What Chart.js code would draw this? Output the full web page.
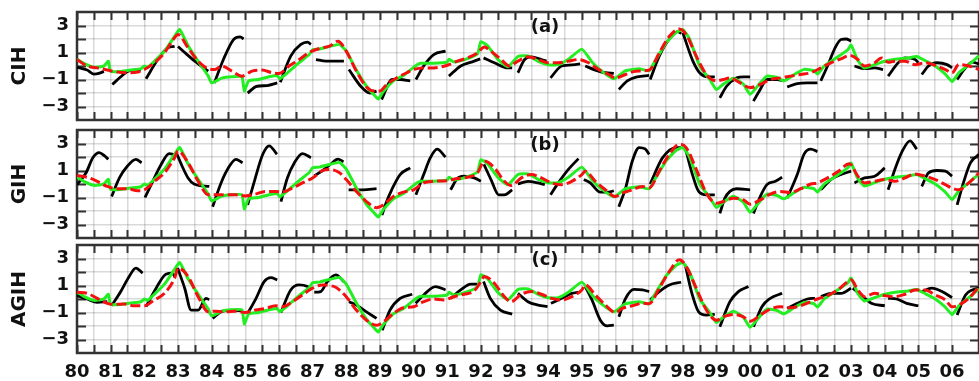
<!DOCTYPE html>
<html>
<head>
<meta charset="utf-8">
<script src="https://cdn.jsdelivr.net/npm/chart.js@4/dist/chart.umd.min.js"></script>
<style>
  body { margin: 0; background: #fff; }
  #wrap { position: relative; width: 979px; height: 381px; }
  #wrap canvas { position: absolute; left: 0; top: 0; }
</style>
</head>
<body>
<div id="wrap">
  <canvas id="panelA" width="979" height="381"></canvas>
  <canvas id="panelB" width="979" height="381"></canvas>
  <canvas id="panelC" width="979" height="381"></canvas>
</div>
<script>
// x axis: years since 1900, labelled 80 ... 06
const xMin = 80;
const xMax = 106.8;
const yTickLabels = [3, 1, -1, -3];
const panelNames = ['CIH', 'GIH', 'AGIH'];
const panelTags = ['(a)', '(b)', '(c)'];

// observed index (green, same in all panels)
const observed = [
  [80.0, 0.5], [80.2, 0.2], [80.5, -0.1], [80.8, 0.0], [80.93, 0.35], [81.0, -0.4], [81.3, -0.4],
  [81.6, -0.3], [81.9, -0.2], [82.0, 0.0], [82.1, -0.1], [82.3, 0.35], [82.6, 1.1], [82.9, 2.2],
  [83.05, 2.7], [83.3, 1.5], [83.6, 0.35], [83.9, -0.75], [84.0, -1.25], [84.3, -0.9], [84.6, -0.8],
  [84.9, -0.8], [84.97, -1.85], [85.1, -1.1], [85.4, -1.0], [85.7, -0.8], [85.95, -0.7], [86.02, -0.95],
  [86.3, -0.4], [86.6, 0.25], [86.9, 0.85], [87.0, 1.2], [87.2, 1.25], [87.5, 1.45], [87.8, 1.6],
  [88.0, 1.1], [88.3, -0.3], [88.6, -1.5], [88.85, -2.2], [88.95, -2.45], [89.1, -1.9], [89.4, -1.1],
  [89.7, -0.7], [90.0, -0.1], [90.2, 0.2], [90.6, 0.2], [91.0, 0.3], [91.05, 0.5], [91.2, 0.3],
  [91.6, 0.55], [91.9, 0.9], [92.0, 1.8], [92.2, 1.5], [92.5, 0.5], [92.8, -0.05], [93.1, 0.7],
  [93.4, 0.75], [93.7, 0.35], [94.0, 0.1], [94.3, 0.1], [94.6, 0.5], [95.0, 1.25], [95.3, 0.3],
  [95.6, -0.4], [95.95, -0.95], [96.3, -0.35], [96.7, -0.2], [97.0, -0.35], [97.2, 0.48], [97.5, 1.7],
  [97.8, 2.5], [98.0, 2.7], [98.2, 2.0], [98.5, 0.0], [98.8, -1.0], [99.0, -1.75], [99.2, -1.35],
  [99.5, -0.9], [99.8, -1.35], [100.0, -2.1], [100.3, -1.25], [100.5, -0.75], [100.8, -0.85],
  [101.0, -1.1], [101.3, -0.65], [101.6, -0.25], [101.9, -0.35], [102.0, -0.6], [102.2, 0.0],
  [102.5, 0.5], [102.9, 1.2], [103.0, 1.55], [103.2, 0.4], [103.4, -0.15], [103.7, 0.1], [104.0, 0.35],
  [104.3, 0.5], [104.7, 0.6], [104.95, 0.7], [105.2, 0.4], [105.5, 0.0], [105.8, -0.6], [106.0, -1.15],
  [106.2, -0.5], [106.5, 0.1], [106.8, 0.75]
];

// red dashed curves
const redA = [
  [80.0, 0.48], [80.3, 0], [80.6, -0.14], [80.9, -0.3], [81.2, -0.45], [81.5, -0.5], [81.8, -0.45],
  [82.0, -0.26], [82.3, 0.24], [82.6, 0.98], [82.9, 2.1], [83.0, 2.33], [83.3, 1.35], [83.6, 0.36],
  [83.9, -0.2], [84.1, -0.26], [84.3, 0], [84.6, -0.38], [84.9, -0.75], [85.2, -0.38], [85.5, -0.3],
  [85.8, -0.5], [86.0, -0.55], [86.3, 0], [86.6, 0.48], [86.9, 1.0], [87.2, 1.3], [87.5, 1.47],
  [87.75, 1.84], [88.0, 1.1], [88.3, -0.38], [88.6, -1.55], [88.85, -1.86], [89.0, -1.86], [89.2, -1.37],
  [89.5, -0.88], [89.8, -0.5], [90.0, -0.26], [90.3, -0.14], [90.6, -0.14], [91.0, 0.06], [91.3, 0.36],
  [91.6, 0.6], [91.9, 0.98], [92.1, 1.4], [92.3, 1.1], [92.6, 0.48], [92.85, 0], [93.1, 0.36],
  [93.4, 0.68], [93.7, 0.48], [94.0, 0.24], [94.3, 0.24], [94.6, 0.36], [94.9, 0.48], [95.2, 0.24],
  [95.5, -0.26], [95.8, -0.63], [96.0, -0.88], [96.3, -0.63], [96.6, -0.38], [97.0, -0.3], [97.3, 0.98],
  [97.6, 2.2], [97.9, 2.75], [98.1, 2.33], [98.4, 0.73], [98.7, -0.63], [99.0, -1.1], [99.2, -1.0],
  [99.4, -0.88], [99.7, -1.25], [100.0, -1.6], [100.3, -1.37], [100.6, -1.0], [100.9, -0.88],
  [101.2, -0.75], [101.5, -0.63], [101.8, -0.5], [102.1, -0.14], [102.4, 0.24], [102.7, 0.53],
  [102.95, 0.78], [103.2, 0.48], [103.4, 0], [103.7, 0.24], [103.9, 0.6], [104.1, 0.28], [104.3, 0.36],
  [104.6, 0.36], [104.9, 0.1], [105.2, 0.24], [105.5, 0.04], [105.8, -0.26], [106.0, -0.5], [106.2, 0.1],
  [106.5, 0], [106.8, -0.26]
];
const redB = [
  [80.0, 0.63], [80.3, 0.5], [80.6, 0.2], [80.9, -0.18], [81.2, -0.35], [81.5, -0.35], [81.8, -0.5],
  [82.0, -0.43], [82.3, 0.2], [82.6, 0.83], [82.9, 1.95], [83.0, 2.45], [83.3, 1.58], [83.6, 0.2],
  [83.9, -0.8], [84.1, -0.8], [84.4, -0.8], [84.7, -0.8], [85.0, -0.88], [85.3, -0.75], [85.6, -0.55],
  [85.9, -0.55], [86.1, -0.6], [86.4, -0.3], [86.7, 0.08], [87.0, 0.45], [87.3, 1.0], [87.5, 1.08],
  [87.8, 0.83], [88.0, 0.33], [88.3, -0.55], [88.6, -1.3], [88.9, -1.75], [89.1, -1.55], [89.4, -0.93],
  [89.7, -0.6], [90.0, -0.43], [90.3, 0.08], [90.6, 0.2], [91.0, 0.25], [91.3, 0.4], [91.6, 0.5],
  [91.9, 0.83], [92.1, 1.7], [92.4, 1.2], [92.7, 0.2], [92.9, -0.12], [93.2, 0.45], [93.5, 0.7],
  [93.8, 0.45], [94.1, 0.08], [94.4, -0.05], [94.7, 0.2], [95.0, 0.7], [95.1, 0.95], [95.4, 0.2],
  [95.7, -0.43], [96.0, -0.93], [96.2, -0.68], [96.5, -0.43], [96.8, -0.18], [97.0, -0.28], [97.3, 0.95],
  [97.6, 2.2], [97.9, 2.95], [98.1, 2.7], [98.4, 1.08], [98.7, -0.68], [99.0, -1.43], [99.2, -1.3],
  [99.5, -1.05], [99.8, -1.18], [100.0, -1.5], [100.3, -1.18], [100.6, -0.75], [100.9, -0.55],
  [101.2, -0.63], [101.5, -0.35], [101.8, 0], [102.0, 0.08], [102.3, 0.45], [102.6, 0.9], [102.95, 1.5],
  [103.2, 0.58], [103.4, 0.08], [103.7, 0.2], [104.0, 0.33], [104.3, 0.2], [104.6, 0.45], [104.9, 0.75],
  [105.2, 0.58], [105.5, 0.33], [105.8, -0.05], [106.0, -0.3], [106.2, -0.43], [106.5, 0.08], [106.8, 0.83]
];
const redC = [
  [80.0, 0.5], [80.3, 0.42], [80.6, 0.05], [80.9, -0.32], [81.1, -0.4], [81.4, -0.37], [81.7, -0.5],
  [82.0, -0.5], [82.3, -0.07], [82.6, 0.42], [82.9, 1.54], [83.0, 2.29], [83.3, 1.67], [83.6, 0.17],
  [83.9, -0.95], [84.1, -0.9], [84.4, -0.95], [84.7, -0.9], [85.0, -1.0], [85.3, -0.82], [85.6, -0.7],
  [85.9, -0.5], [86.1, -0.57], [86.4, -0.2], [86.7, 0.3], [87.0, 0.8], [87.3, 1.04], [87.5, 1.0],
  [87.7, 0.85], [88.0, 0.17], [88.3, -0.82], [88.6, -1.57], [88.9, -1.94], [89.1, -1.7], [89.4, -1.07],
  [89.7, -0.65], [90.0, -0.57], [90.3, -0.2], [90.6, 0], [90.9, -0.07], [91.2, 0.17], [91.5, 0.35],
  [91.8, 0.6], [92.0, 1.29], [92.1, 1.67], [92.4, 1.17], [92.7, 0.17], [92.9, -0.2], [93.2, 0.35],
  [93.5, 0.55], [93.8, 0.35], [94.1, 0.05], [94.4, -0.07], [94.7, 0.17], [95.0, 0.67], [95.1, 1.04],
  [95.4, 0.3], [95.7, -0.45], [96.0, -1.0], [96.2, -0.7], [96.5, -0.5], [96.8, -0.32], [97.0, -0.35],
  [97.3, 0.8], [97.6, 2.04], [97.9, 2.91], [98.1, 2.41], [98.4, 0.8], [98.7, -0.82], [99.0, -1.57],
  [99.2, -1.32], [99.5, -1.14], [99.8, -1.32], [100.0, -1.64], [100.3, -1.19], [100.6, -0.75],
  [100.9, -0.57], [101.2, -0.65], [101.5, -0.5], [101.8, -0.2], [102.0, 0], [102.3, 0.25], [102.6, 0.67],
  [102.9, 1.29], [103.0, 1.42], [103.2, 0.67], [103.4, 0.17], [103.7, 0.42], [104.0, 0.25], [104.3, 0.17],
  [104.6, 0.35], [104.9, 0.67], [105.2, 0.67], [105.5, 0.3], [105.8, -0.07], [106.0, -0.57], [106.2, -0.45],
  [106.5, 0.05], [106.8, 0.92]
];

// black forecast segments, one per start year
const forecastA = [
  [[80.0, -0.1], [80.3, -0.3], [80.5, -0.6], [80.65, -0.55], [80.8, -0.4]],
  [[81.05, -1.37], [81.3, -0.8], [81.5, -0.4], [81.7, -0.3], [81.9, -0.3]],
  [[82.05, -0.95], [82.4, 0.48], [82.7, 1.35], [82.9, 1.45]],
  [[83.0, 1.45], [83.2, 1.0], [83.5, 0.36], [83.9, -0.38]],
  [[84.08, -1.25], [84.35, 0.48], [84.65, 1.96], [84.85, 2.16], [84.95, 2.0]],
  [[85.07, -2.0], [85.35, -1.5], [85.65, -1.45], [85.95, -1.25]],
  [[86.04, -1.2], [86.35, 0.73], [86.65, 1.6], [86.85, 1.77], [86.95, 1.6]],
  [[87.1, 0.48], [87.4, 0.36], [87.93, 0.36]],
  [[88.08, -0.26], [88.43, -1.5], [88.7, -2.0], [88.9, -1.86]],
  [[89.05, -2.48], [89.37, -1.0], [89.6, -1.0], [89.9, -1.1]],
  [[90.07, -1.0], [90.3, 0], [90.6, 0.85], [90.95, 1.1]],
  [[91.05, -0.75], [91.4, 0], [91.8, 0.36], [91.98, 0.53]],
  [[92.08, 0.6], [92.4, 0.24], [92.8, -0.14], [92.93, -0.14]],
  [[93.1, -0.5], [93.3, 0.48], [93.5, 0.68], [93.8, 0.48], [93.95, 0.36]],
  [[94.07, -0.88], [94.4, 0], [94.8, 0.1], [94.95, 0.15]],
  [[95.1, 0], [95.4, -0.3], [95.7, -0.5], [95.95, -0.55]],
  [[96.1, -1.74], [96.35, -1.1], [96.65, -0.8], [97.0, -0.7]],
  [[97.03, -1.0], [97.3, 0.73], [97.6, 2.0], [97.85, 2.55], [97.95, 2.4]],
  [[98.0, 2.46], [98.3, 0.36], [98.5, -0.5], [98.75, -0.8], [98.95, -0.8]],
  [[99.1, -2.36], [99.3, -1.5], [99.6, -0.88], [99.8, -0.8], [100.0, -0.8]],
  [[100.1, -2.6], [100.3, -1.74], [100.5, -1.0], [100.8, -1.0], [101.0, -1.1]],
  [[101.1, -1.55], [101.4, -1.3], [101.7, -1.25], [102.0, -1.25]],
  [[102.1, -1.1], [102.3, 0], [102.5, 1.22], [102.7, 1.96], [102.85, 2.0], [103.0, 1.84]],
  [[103.1, 0], [103.4, -0.2], [103.7, -0.14], [103.95, -0.26]],
  [[104.1, -0.75], [104.4, 0.24], [104.6, 0.6], [104.9, 0.48], [105.0, 0.24]],
  [[105.1, -0.63], [105.3, 0], [105.55, 0.24], [105.85, 0.1], [106.0, -0.14]],
  [[106.15, -1.0], [106.4, -0.14], [106.6, 0.28], [106.8, 0.15]]
];
const forecastB = [
  [[80.0, -0.05], [80.27, 0.83], [80.47, 1.95], [80.66, 2.33], [80.82, 2.08], [80.93, 1.83]],
  [[81.03, -0.93], [81.26, 0.45], [81.5, 1.33], [81.75, 1.83], [81.92, 1.58]],
  [[82.02, -1.0], [82.25, 0.2], [82.5, 1.45], [82.74, 2.25], [82.88, 2.2]],
  [[82.95, 2.33], [83.1, 1.45], [83.3, 0.45], [83.48, 0], [83.93, -0.18]],
  [[84.03, -1.68], [84.28, 0.08], [84.5, 1.2], [84.72, 1.83], [84.92, 1.58]],
  [[85.07, -1.55], [85.27, 0.2], [85.52, 2.2], [85.71, 2.83], [85.94, 2.2]],
  [[86.06, -1.3], [86.25, 0.45], [86.46, 1.58], [86.7, 2.25], [86.95, 1.95]],
  [[87.05, 0.6], [87.3, 1.0], [87.55, 1.5], [87.75, 1.85], [87.92, 1.65]],
  [[88.07, -0.43], [88.5, -0.43], [88.9, -0.35]],
  [[89.06, -2.3], [89.2, -1.3], [89.35, -0.43], [89.6, 0.7], [89.9, 1.2]],
  [[90.07, -0.8], [90.3, 0.7], [90.5, 1.95], [90.7, 2.58], [90.95, 2.0]],
  [[91.1, -0.43], [91.3, 0.4], [91.5, 0.58], [91.8, 0.45], [92.0, 0.2]],
  [[92.09, 1.45], [92.3, 0.33], [92.53, -0.8], [92.7, -0.8], [92.93, -0.43]],
  [[93.1, 0], [93.4, 0.2], [93.7, 0.08], [93.9, -0.05]],
  [[94.07, -0.8], [94.3, 0.08], [94.6, 1.08], [94.9, 1.88]],
  [[95.06, 0.33], [95.25, 0.08], [95.55, -0.6], [95.8, -0.6], [95.95, -0.5]],
  [[96.1, -1.68], [96.3, -0.3], [96.5, 1.7], [96.7, 2.7], [96.88, 2.6], [97.0, 2.2]],
  [[97.03, 0.0], [97.4, 1.95], [97.8, 2.7], [97.95, 2.7]],
  [[98.07, 2.7], [98.27, 0.83], [98.47, -0.55], [98.7, -0.8], [98.95, -0.8]],
  [[99.1, -2.18], [99.25, -1.05], [99.4, -0.55], [99.6, -0.35], [100.0, -0.43]],
  [[100.1, -2.18], [100.3, -0.93], [100.5, -0.05], [100.75, 0.2], [100.95, 0.5]],
  [[101.1, -1.05], [101.4, 0.7], [101.6, 2.2], [101.8, 2.58], [102.0, 2.4]],
  [[102.1, -0.43], [102.4, 0.33], [102.7, 0.7], [103.0, 0.95]],
  [[103.1, 0.08], [103.4, 0.45], [103.7, 0.58], [104.0, 1.2]],
  [[104.1, -0.43], [104.3, 1.08], [104.5, 2.33], [104.75, 3.2], [104.95, 2.58]],
  [[105.1, -0.18], [105.3, 0.83], [105.55, 1.0], [105.8, 0.95], [106.0, 0.58]],
  [[106.15, -1.55], [106.35, 0.2], [106.55, 1.58], [106.8, 2.2]]
];
const forecastC = [
  [[80.0, 0.25], [80.3, 0], [80.6, -0.25], [80.9, -0.2]],
  [[81.03, -0.5], [81.3, 0.55], [81.55, 1.67], [81.75, 2.29], [81.95, 1.92]],
  [[82.05, -0.57], [82.35, 0.8], [82.64, 1.84], [82.84, 1.92], [82.9, 1.67]],
  [[82.99, 2.29], [83.2, 0.8], [83.39, -0.82], [83.6, -0.82], [83.83, 0.05], [83.93, -0.05]],
  [[84.03, -1.44], [84.28, -0.95], [84.6, -0.82], [84.92, -0.9]],
  [[85.07, -1.07], [85.32, 0.05], [85.56, 1.29], [85.76, 1.59], [85.95, 1.42]],
  [[86.06, -1.0], [86.35, 0.67], [86.6, 1.04], [86.85, 0.92], [86.97, 0.7]],
  [[87.05, 0.5], [87.24, 0.55], [87.44, 1.29], [87.69, 1.79], [87.93, 1.29]],
  [[88.08, -0.2], [88.3, -0.45], [88.6, -0.95], [88.9, -1.44]],
  [[89.07, -2.31], [89.3, -0.82], [89.6, 0.05], [89.96, 0.35]],
  [[90.06, -0.32], [90.3, 0.3], [90.65, 0.92], [90.95, 0.67]],
  [[91.1, 0.05], [91.4, 0.67], [91.7, 1.1], [91.9, 1.1]],
  [[92.08, 1.29], [92.28, 0.05], [92.58, -0.82], [92.93, -1.12]],
  [[93.1, 0.42], [93.4, -0.2], [93.7, -0.45], [93.98, -0.57]],
  [[94.08, -0.32], [94.4, 0.05], [94.7, 0.42], [94.9, 0.5]],
  [[95.1, 0.92], [95.3, -0.07], [95.55, -1.57], [95.75, -1.99], [95.95, -1.94]],
  [[96.1, -1.32], [96.3, 0.05], [96.55, 0.72], [96.8, 0.67], [97.0, 0.55]],
  [[97.03, -0.07], [97.3, 0.55], [97.6, 1.04], [97.95, 1.24]],
  [[98.07, 2.54], [98.27, 0.42], [98.47, -0.95], [98.7, -1.19], [98.95, -1.14]],
  [[99.1, -2.06], [99.4, -0.2], [99.65, 0.55], [99.95, 0.92]],
  [[100.1, -2.06], [100.35, -0.57], [100.6, 0.05], [100.95, 0.42]],
  [[101.1, -0.7], [101.4, -0.32], [101.7, 0], [101.93, 0.05]],
  [[102.1, 0.17], [102.4, 0.42], [102.7, 0.42], [103.0, 0.8]],
  [[103.05, 0.8], [103.3, 0.3], [103.6, -0.32], [104.0, -0.5]],
  [[104.1, 0.05], [104.35, 0], [104.65, -0.32], [105.0, -0.5]],
  [[105.1, 0.55], [105.4, 0.8], [105.7, 0.55], [106.0, 0.1]],
  [[106.15, -1.19], [106.4, 0.3], [106.6, 0.67], [106.8, 0.8]]
];

const FONT = 'DejaVu Sans';

function toPoints(pairs) {
  return pairs.map(([x, y]) => ({ x, y }));
}

// join segments with a null point so the line breaks between them
function joinSegments(segs) {
  const out = [];
  segs.forEach((seg, i) => {
    if (i > 0) out.push({ x: (seg[0][0] + segs[i - 1][segs[i - 1].length - 1][0]) / 2, y: null });
    seg.forEach(([x, y]) => out.push({ x, y }));
  });
  return out;
}

// frame, inward tick marks and the panel tag
const framePlugin = {
  id: 'frame',
  beforeDatasetsDraw(chart, args, opts) {
    const { ctx, chartArea: a, scales } = chart;
    ctx.save();
    ctx.strokeStyle = '#333';
    ctx.lineWidth = 2;
    ctx.beginPath();
    scales.x.ticks.forEach(t => {
      if (Math.abs(t.value * 2 - Math.round(t.value * 2)) > 1e-6) return;
      const px = Math.round(scales.x.getPixelForValue(t.value)) + 0.5;
      ctx.moveTo(px, a.top); ctx.lineTo(px, a.top + 8);
      ctx.moveTo(px, a.bottom); ctx.lineTo(px, a.bottom - 8);
    });
    scales.y.ticks.forEach(t => {
      if (Math.abs(t.value) > 3) return;
      const py = Math.round(scales.y.getPixelForValue(t.value)) + 0.5;
      ctx.moveTo(a.left, py); ctx.lineTo(a.left + 9, py);
      ctx.moveTo(a.right, py); ctx.lineTo(a.right - 9, py);
    });
    ctx.stroke();
    ctx.lineWidth = 2.5;
    ctx.strokeRect(a.left, a.top, a.right - a.left, a.bottom - a.top);
    ctx.restore();
  },
  afterDraw(chart, args, opts) {
    const { ctx, chartArea: a } = chart;
    ctx.save();
    ctx.fillStyle = '#111';
    ctx.font = 'bold 18px "' + FONT + '"';
    ctx.textAlign = 'center';
    ctx.textBaseline = 'middle';
    ctx.fillText(opts.tag, (a.left + a.right) / 2 + 17, a.top + 15);
    ctx.restore();
  }
};

function makePanel(id, idx, top, bottom, red, forecast, showX) {
  const xAxisHeight = showX ? 381 - bottom : 0;
  return new Chart(document.getElementById(id), {
    type: 'line',
    data: {
      datasets: [
        {
          data: toPoints(red),
          borderColor: '#f41010',
          borderWidth: 3,
          borderDash: [10, 4],
          pointRadius: 0,
          cubicInterpolationMode: 'monotone'
        },
        {
          data: toPoints(observed),
          borderColor: '#22ee22',
          borderWidth: 3,
          pointRadius: 0,
          tension: 0.15
        },
        {
          data: joinSegments(forecast),
          borderColor: '#000',
          borderWidth: 2.8,
          pointRadius: 0,
          spanGaps: false,
          cubicInterpolationMode: 'monotone'
        }
      ]
    },
    options: {
      responsive: false,
      animation: false,
      devicePixelRatio: 1,
      layout: { padding: { top: top, bottom: showX ? 0 : 381 - bottom, left: 0, right: 0 } },
      plugins: {
        legend: { display: false },
        tooltip: { enabled: false },
        frame: { tag: panelTags[idx] }
      },
      scales: {
        x: {
          type: 'linear',
          min: xMin,
          max: xMax,
          afterFit: s => { s.height = xAxisHeight; s.paddingLeft = 0; s.paddingRight = 0; },
          border: { display: false },
          grid: { color: 'rgba(0,0,0,0.15)', lineWidth: 1.5, drawTicks: false },
          ticks: {
            display: showX,
            stepSize: 0.5,
            autoSkip: false,
            maxRotation: 0,
            padding: 9,
            color: '#111',
            font: { family: FONT, size: 18, weight: 'bold' },
            callback: v => Math.abs(v - Math.round(v)) < 1e-6
              ? String(Math.round(v) % 100).padStart(2, '0') : ''
          }
        },
        y: {
          min: -4,
          max: 4,
          afterFit: s => { s.width = 77; s.paddingTop = 0; s.paddingBottom = 0; },
          border: { display: false },
          grid: { color: 'rgba(0,0,0,0.15)', lineWidth: 1.5, drawTicks: false },
          title: {
            display: true,
            text: panelNames[idx],
            color: '#111',
            font: { family: FONT, size: 20, weight: 'bold' },
            padding: { top: 8, bottom: 0 }
          },
          ticks: {
            stepSize: 1,
            autoSkip: false,
            padding: 8,
            color: '#111',
            font: { family: FONT, size: 18, weight: 'bold' },
            callback: v => yTickLabels.includes(v) ? (v < 0 ? '\u2212' + (-v) : String(v)) : ''
          }
        }
      }
    },
    plugins: [framePlugin]
  });
}

makePanel('panelA', 0, 12, 120, redA, forecastA, false);
makePanel('panelB', 1, 130, 238, redB, forecastB, false);
makePanel('panelC', 2, 245, 353, redC, forecastC, true);
</script>
</body>
</html>
